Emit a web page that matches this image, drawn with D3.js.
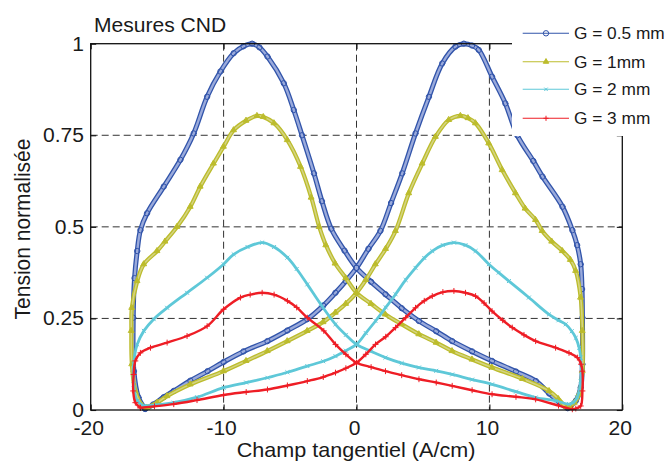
<!DOCTYPE html>
<html><head><meta charset="utf-8">
<script src="https://cdn.jsdelivr.net/npm/d3@7"></script>
<style>
body{margin:0;background:#fff}
svg{display:block}
text{font-family:"Liberation Sans",Arial,Helvetica,sans-serif;fill:#1a1a1a}
</style>
</head><body>
<svg id="chart" width="670" height="463"></svg>
<script>
// ---- data ----
const titleText = "Mesures CND";
const xLabel = "Champ tangentiel (A/cm)";
const yLabel = "Tension normalisée";
const xTicks = [-20, -10, 0, 10, 20];
const yTicks = [0, 0.25, 0.5, 0.75, 1];
const yTickLabels = ["0", "0.25", "0.5", "0.75", "1"];
const seriesNames = ["G = 0.5 mm", "G = 1mm", "G = 2 mm", "G = 3 mm"];

// G = 0.5 mm : branch from left bottom to right peak and right bottom, then back
const g05Up = [[-15.9,0.003],[-15.3,0.015],[-14.5,0.035],[-13.75,0.052],[-12.5,0.08],[-11.2,0.106],[-10,0.131],[-8.5,0.16],[-6.7,0.188],[-5.2,0.217],[-3.7,0.248],[-2.5,0.285],[-1.58,0.32],[-0.8,0.352],[0,0.388],[0.9,0.44],[1.8,0.489],[2.6,0.565],[3.44,0.646],[4.44,0.755],[5.45,0.855],[6.45,0.946],[7.45,0.992],[8.08,1.0],[8.7,0.995],[9.2,0.983],[10.2,0.91],[11.2,0.837],[12.1,0.75],[13.3,0.68],[14.0,0.637],[15.5,0.555],[16.24,0.491],[16.6,0.45],[16.87,0.398],[16.97,0.33],[17.0,0.252],[17.0,0.125],[16.87,0.061],[16.5,0.025],[16.1,0.011],[15.9,0.005]];
const g05Down = [[15.3,0.02],[14.5,0.045],[13.5,0.079],[12,0.105],[10.2,0.134],[8.7,0.16],[7.2,0.188],[6,0.215],[4.7,0.243],[3.4,0.278],[2.18,0.316],[1.1,0.35],[0,0.388],[-0.9,0.435],[-1.9,0.495],[-2.6,0.57],[-3.2,0.646],[-4.1,0.75],[-4.72,0.819],[-5.47,0.892],[-6.7,0.965],[-7.3,0.99],[-7.85,1.0],[-8.5,0.993],[-9.24,0.974],[-10.24,0.924],[-11.24,0.855],[-12.25,0.755],[-13.25,0.683],[-14.5,0.61],[-15.76,0.537],[-16.26,0.491],[-16.5,0.434],[-16.7,0.36],[-16.8,0.252],[-16.75,0.106],[-16.4,0.034],[-15.9,0.003]];

// G = 1 mm
const g1Up = [[-15.76,0.006],[-15,0.02],[-14.25,0.038],[-12.5,0.07],[-10,0.106],[-8.3,0.134],[-6.7,0.161],[-5.2,0.188],[-3.7,0.216],[-2.5,0.24],[-1.58,0.266],[-0.8,0.29],[0,0.32],[0.7,0.355],[1.43,0.398],[2.2,0.44],[2.94,0.489],[3.94,0.592],[4.95,0.673],[5.95,0.746],[6.95,0.792],[7.83,0.803],[8.4,0.797],[8.96,0.783],[9.96,0.728],[10.97,0.655],[11.97,0.592],[12.7,0.55],[13.48,0.519],[13.98,0.489],[14.7,0.46],[15.5,0.434],[16.1,0.41],[16.5,0.38],[16.87,0.307],[17.0,0.216],[17.0,0.106],[16.75,0.043],[16.4,0.02],[16.1,0.011],[15.8,0.008]];
const g1Down = [[15.2,0.03],[14.5,0.052],[12.5,0.085],[10.2,0.116],[8.7,0.138],[7.2,0.161],[6,0.184],[4.7,0.207],[3.4,0.234],[2.18,0.261],[1.1,0.29],[0,0.32],[-0.8,0.36],[-1.6,0.4],[-2.3,0.45],[-2.8,0.5],[-3.4,0.58],[-4.2,0.664],[-5.2,0.737],[-6.2,0.783],[-7.0,0.8],[-7.48,0.803],[-8.3,0.79],[-9.24,0.764],[-10,0.719],[-10.75,0.673],[-11.75,0.61],[-12.5,0.555],[-13.5,0.5],[-14.4,0.46],[-15.0,0.434],[-16.0,0.398],[-16.5,0.352],[-16.9,0.279],[-16.94,0.216],[-16.9,0.125],[-16.64,0.052],[-16.1,0.011],[-15.76,0.006]];

// G = 2 mm
const g2Up = [[-16,0.011],[-15,0.014],[-13.75,0.02],[-12,0.035],[-10,0.061],[-8.3,0.075],[-6.7,0.088],[-5.2,0.103],[-3.7,0.12],[-2.5,0.133],[-1.58,0.147],[-0.8,0.162],[0,0.179],[0.7,0.21],[1.43,0.243],[2.2,0.28],[2.94,0.316],[3.7,0.355],[4.44,0.388],[5.1,0.415],[5.7,0.434],[6.5,0.45],[7.33,0.457],[8.2,0.45],[8.96,0.434],[9.96,0.398],[10.7,0.375],[11.47,0.352],[12.97,0.307],[14.48,0.261],[15.2,0.245],[15.74,0.234],[16.2,0.215],[16.5,0.197],[16.75,0.17],[16.87,0.143],[16.87,0.079],[16.6,0.034],[16.3,0.02],[16,0.016]];
const g2Down = [[15,0.025],[13.48,0.034],[12,0.05],[10.2,0.07],[8.7,0.083],[7.2,0.097],[6,0.107],[4.7,0.116],[3.4,0.128],[2.18,0.143],[1.1,0.16],[0,0.179],[-0.8,0.205],[-1.58,0.234],[-2.7,0.289],[-3.7,0.343],[-4.5,0.385],[-5.2,0.416],[-6.2,0.445],[-7.1,0.457],[-8.2,0.445],[-9.24,0.425],[-10,0.398],[-11.24,0.361],[-12.75,0.32],[-14.25,0.279],[-15.26,0.248],[-16,0.216],[-16.5,0.179],[-16.77,0.125],[-16.77,0.07],[-16.5,0.025],[-16,0.011]];

// G = 3 mm
const g3Up = [[-16.26,0.006],[-15.2,0.01],[-13.75,0.016],[-12,0.027],[-10,0.041],[-8.3,0.049],[-6.7,0.056],[-5.2,0.067],[-3.7,0.079],[-2.5,0.09],[-1.58,0.102],[-0.8,0.114],[0,0.129],[0.7,0.152],[1.43,0.179],[2.2,0.2],[2.94,0.225],[3.7,0.252],[4.44,0.279],[5.1,0.298],[5.7,0.311],[6.5,0.322],[7.33,0.325],[8.2,0.32],[8.96,0.311],[9.6,0.292],[10.2,0.27],[11,0.245],[11.72,0.225],[12.6,0.205],[13.48,0.188],[14.98,0.17],[15.99,0.156],[16.62,0.143],[16.9,0.125],[17,0.106],[17,0.052],[16.87,0.011],[16.5,0.004],[16.24,0.002]];
const g3Down = [[15.2,0.012],[13.48,0.029],[12,0.036],[10.2,0.043],[8.7,0.054],[7.2,0.066],[6,0.075],[4.7,0.084],[3.4,0.095],[2.18,0.106],[1.1,0.117],[0,0.129],[-0.8,0.152],[-1.58,0.179],[-2.46,0.216],[-3.7,0.252],[-4.5,0.28],[-5.2,0.298],[-6.2,0.315],[-7.1,0.32],[-8,0.315],[-8.73,0.307],[-10,0.275],[-11.24,0.229],[-12.75,0.202],[-14.25,0.184],[-15.5,0.17],[-16.26,0.156],[-16.64,0.134],[-16.77,0.097],[-16.8,0.052],[-16.64,0.02],[-16.26,0.006]];

const seriesColors = ["#3154aa", "#bcbc2c", "#5ec8d8", "#ee1d25"];
const seriesMarkers = ["circle", "triangle", "times", "plus"];
// width of the dense marker band drawn under each line, and its lighter core
const bandStyle = [
  {outer: 5, inner: 2.4, core: "#9aaadb"},
  {outer: 4.2, inner: 1.6, core: "#d4d480"},
  {outer: 2.8, inner: 0, core: null},
  {outer: 2.4, inner: 0, core: null}
];

// ---- layout ----
const W = 670, H = 463;
const plot = {left: 90.7, right: 622.3, top: 43.7, bottom: 410};
const SX = 1.08; // horizontal text stretch seen in the reference

const svg = d3.select("#chart");
const x = d3.scaleLinear().domain([-20, 20]).range([plot.left, plot.right]);
const y = d3.scaleLinear().domain([0, 1]).range([plot.bottom, plot.top]);

function txt(g, str, px, py, size, anchor, rot) {
  return g.append("text")
    .attr("transform", `translate(${px},${py}) scale(${SX},1)` + (rot ? ` rotate(${rot})` : ""))
    .attr("font-size", size)
    .attr("text-anchor", anchor || "start")
    .text(str);
}

// grid
const grid = svg.append("g").attr("stroke", "#333").attr("stroke-width", 1).attr("stroke-dasharray", "7,4").attr("fill", "none");
grid.selectAll("line.gx").data(xTicks.filter(v => v > -20 && v < 20)).join("line")
  .attr("class", "gx")
  .attr("x1", d => x(d)).attr("x2", d => x(d)).attr("y1", plot.top).attr("y2", plot.bottom);
grid.selectAll("line.gy").data(yTicks.filter(v => v > 0 && v < 1)).join("line")
  .attr("class", "gy")
  .attr("x1", plot.left).attr("x2", plot.right).attr("y1", d => y(d)).attr("y2", d => y(d));

// curves
const series = [
  {name: seriesNames[0], up: g05Up, down: g05Down},
  {name: seriesNames[1], up: g1Up, down: g1Down},
  {name: seriesNames[2], up: g2Up, down: g2Down},
  {name: seriesNames[3], up: g3Up, down: g3Down}
];
const line = d3.line().x(d => x(d[0])).y(d => y(d[1])).curve(d3.curveCatmullRom.alpha(0.5));

function markerPath(kind) {
  if (kind === "circle") return d3.symbol(d3.symbolCircle, 23)();
  if (kind === "triangle") return d3.symbol(d3.symbolTriangle, 13)();
  if (kind === "times") return d3.symbol(d3.symbolTimes, 9)();
  return d3.symbol(d3.symbolPlus, 10)();
}

const curves = svg.append("g").attr("stroke-linejoin", "round").attr("stroke-linecap", "round");
series.forEach((s, i) => {
  const pts = s.up.concat(s.down);
  const g = curves.append("g");
  const b = bandStyle[i];
  g.append("path").attr("d", line(pts)).attr("fill", "none")
    .attr("stroke", seriesColors[i]).attr("stroke-width", b.outer);
  if (b.inner) {
    g.append("path").attr("d", line(pts)).attr("fill", "none")
      .attr("stroke", b.core).attr("stroke-width", b.inner);
  }
  g.selectAll("path.m").data(pts).join("path").attr("class", "m")
    .attr("d", markerPath(seriesMarkers[i]))
    .attr("transform", d => `translate(${x(d[0])},${y(d[1])})`)
    .attr("fill", seriesMarkers[i] === "triangle" ? seriesColors[i] : "none")
    .attr("stroke", seriesColors[i]).attr("stroke-width", 1);
});

// axes box
const ax = svg.append("g");
ax.append("rect").attr("x", plot.left).attr("y", plot.top)
  .attr("width", plot.right - plot.left).attr("height", plot.bottom - plot.top)
  .attr("fill", "none").attr("stroke", "#111").attr("stroke-width", 1.3);
const tl = 5.5;
const xAxisB = d3.axisBottom(x).tickValues(xTicks).tickSize(-tl).tickFormat("");
const xAxisT = d3.axisTop(x).tickValues(xTicks).tickSize(-tl).tickFormat("");
const yAxisL = d3.axisLeft(y).tickValues(yTicks).tickSize(-tl).tickFormat("");
const yAxisR = d3.axisRight(y).tickValues(yTicks).tickSize(-tl).tickFormat("");
[[xAxisB, `translate(0,${plot.bottom})`], [xAxisT, `translate(0,${plot.top})`],
 [yAxisL, `translate(${plot.left},0)`], [yAxisR, `translate(${plot.right},0)`]].forEach(([a, tr]) => {
  const g = ax.append("g").attr("transform", tr).call(a);
  g.select(".domain").remove();
  g.selectAll("line").attr("stroke", "#111").attr("stroke-width", 1.1);
});

// tick labels
const fs = 19.5;
xTicks.forEach(v => txt(svg, String(v), x(v) - 2, 435, fs, "middle"));
yTicks.forEach((v, i) => txt(svg, yTickLabels[i], 84, y(v) + 7, fs, "end"));

// titles
txt(svg, titleText, 94, 32, fs, "start");
txt(svg, xLabel, 356, 457, 20, "middle");
txt(svg, yLabel, 30, 229, 21, "middle", -90);

// legend (opaque box over the top-right corner)
const lg = svg.append("g");
lg.append("rect").attr("x", 512).attr("y", 0).attr("width", W - 512).attr("height", 136).attr("fill", "#fff");
const rowY = [33.3, 61.7, 89.3, 118.3];
seriesNames.forEach((n, i) => {
  lg.append("line").attr("x1", 522.7).attr("x2", 569).attr("y1", rowY[i]).attr("y2", rowY[i])
    .attr("stroke", seriesColors[i]).attr("stroke-width", 1.1);
  lg.append("path").attr("d", markerPath(seriesMarkers[i]))
    .attr("transform", `translate(546,${rowY[i]})`)
    .attr("fill", seriesMarkers[i] === "triangle" ? seriesColors[i] : "none")
    .attr("stroke", seriesColors[i]).attr("stroke-width", 1);
  txt(lg, n, 574, rowY[i] + 6, 16, "start");
});
</script>
</body></html>
